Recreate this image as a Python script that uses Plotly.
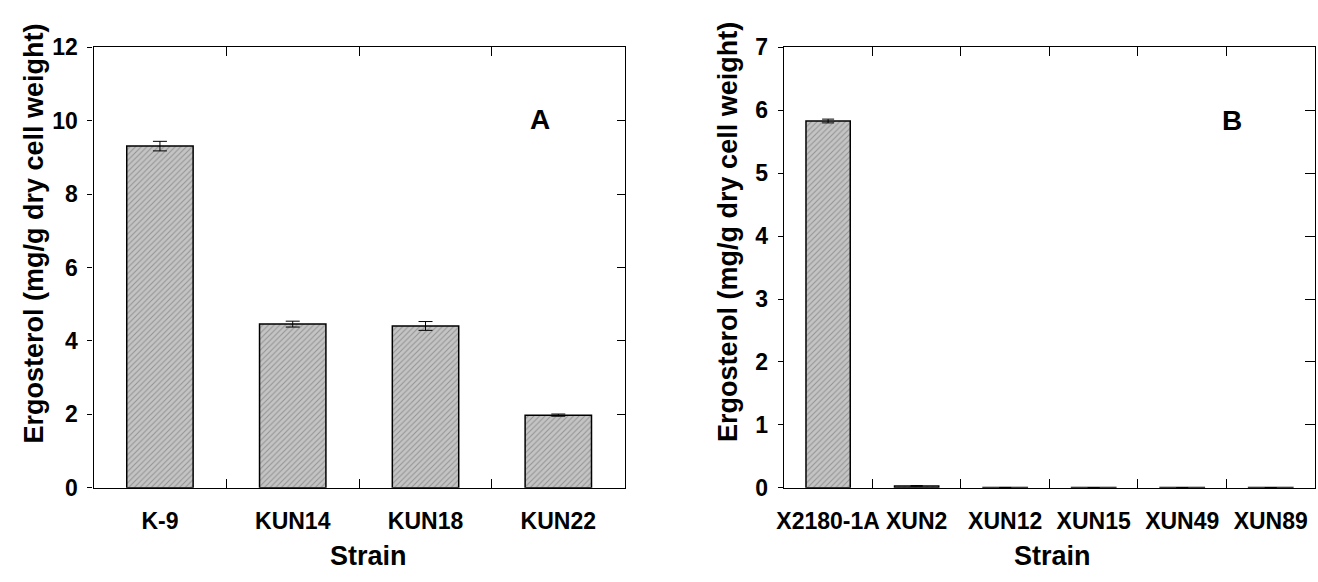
import plotly.graph_objects as go

# Panel A data
strains_a = ["K-9", "KUN14", "KUN18", "KUN22"]
ergo_a = [9.31, 4.46, 4.41, 1.98]
err_a = [0.13, 0.08, 0.12, 0.03]
yticks_a = [0, 2, 4, 6, 8, 10, 12]

# Panel B data
strains_b = ["X2180-1A", "XUN2", "XUN12", "XUN15", "XUN49", "XUN89"]
ergo_b = [5.83, 0.03, 0.005, 0.003, 0.003, 0.003]
err_b = [0.03, 0.005, 0.0, 0.0, 0.0, 0.0]
yticks_b = [0, 1, 2, 3, 4, 5, 6, 7]

W, H = 1318, 582
FONT = "Liberation Sans, Arial, sans-serif"

def px_x(p):
    return p / W

def px_y(p):
    return 1 - p / H

bar_style = dict(
    marker=dict(
        color="#bdbdbd",
        line=dict(color="black", width=1.5),
        pattern=dict(shape="/", fgcolor="#5e5e5e", bgcolor="#c4c4c4", size=4, solidity=0.25),
    ),
    width=0.5,
    showlegend=False,
)

fig = go.Figure()
fig.add_trace(go.Bar(
    x=strains_a, y=ergo_a, xaxis="x", yaxis="y",
    error_y=dict(type="data", array=err_a, color="black", thickness=1, width=7),
    **bar_style))
fig.add_trace(go.Bar(
    x=strains_b, y=ergo_b, xaxis="x2", yaxis="y2",
    error_y=dict(type="data", array=err_b, color="black", thickness=1, width=6),
    **bar_style))
# helper invisible traces so the right-side tick axes render
fig.add_trace(go.Scatter(x=[strains_a[0]], y=[0], xaxis="x", yaxis="y3",
                         mode="markers", marker=dict(opacity=0), showlegend=False, hoverinfo="skip"))
fig.add_trace(go.Scatter(x=[strains_b[0]], y=[0], xaxis="x2", yaxis="y4",
                         mode="markers", marker=dict(opacity=0), showlegend=False, hoverinfo="skip"))

ydom = [px_y(497), px_y(36)]
tickfont = dict(family=FONT, size=23, color="black", weight="bold")

xcommon = dict(
    type="category", tickson="boundaries", ticks="inside", ticklen=9,
    tickcolor="black", tickwidth=1.2, showline=True, linecolor="black", linewidth=1.2,
    mirror="ticks", showgrid=False, tickfont=tickfont, ticklabelstandoff=13,
    zeroline=False, tickangle=0,
)
ycommon = dict(
    ticks="outside", ticklen=5, tickcolor="black", tickwidth=1.2,
    showline=True, linecolor="black", linewidth=1.2, showgrid=False,
    zeroline=False, tickfont=tickfont, ticklabelstandoff=5,
)

fig.update_layout(
    width=W, height=H,
    margin=dict(l=0, r=0, t=0, b=0),
    paper_bgcolor="white", plot_bgcolor="white",
    bargap=0.5,
    xaxis=dict(domain=[px_x(87), px_x(621)], anchor="y", range=[-0.5, 3.5], **xcommon),
    yaxis=dict(domain=ydom, anchor="x", range=[0, 12], tickvals=yticks_a, **ycommon),
    yaxis3=dict(overlaying="y", anchor="x", side="right", range=[0, 12], tickvals=yticks_a,
                ticks="inside", ticklen=8, tickcolor="black", tickwidth=1.2,
                showline=True, linecolor="black", linewidth=1.2, showgrid=False,
                showticklabels=False, zeroline=False),
    xaxis2=dict(domain=[px_x(781), px_x(1315)], anchor="y2", range=[-0.5, 5.5], **xcommon),
    yaxis2=dict(domain=ydom, anchor="x2", range=[0, 7], tickvals=yticks_b, **ycommon),
    yaxis4=dict(overlaying="y2", anchor="x2", side="right", range=[0, 7], tickvals=yticks_b,
                ticks="inside", ticklen=10, tickcolor="black", tickwidth=1.2,
                showline=True, linecolor="black", linewidth=1.2, showgrid=False,
                showticklabels=False, zeroline=False),
)

ytitle = "Ergosterol (mg/g dry cell weight)"
ann_font = dict(family=FONT, size=27, color="black", weight="bold")
annotations = [
    dict(text=ytitle, x=px_x(27), y=px_y(231), textangle=-90, font=ann_font),
    dict(text=ytitle, x=px_x(725), y=px_y(229), textangle=-90, font=ann_font),
    dict(text="Strain", x=px_x(363), y=px_y(568), font=ann_font),
    dict(text="Strain", x=px_x(1051), y=px_y(568), font=ann_font),
    dict(text="A", x=px_x(536), y=px_y(111), font=dict(family=FONT, size=28, color="black", weight="bold")),
    dict(text="B", x=px_x(1232), y=px_y(113), font=dict(family=FONT, size=28, color="black", weight="bold")),
]
for a in annotations:
    a.update(xref="paper", yref="paper", showarrow=False, xanchor="center", yanchor="middle")
fig.update_layout(annotations=annotations)

fig.write_html("out.html")
